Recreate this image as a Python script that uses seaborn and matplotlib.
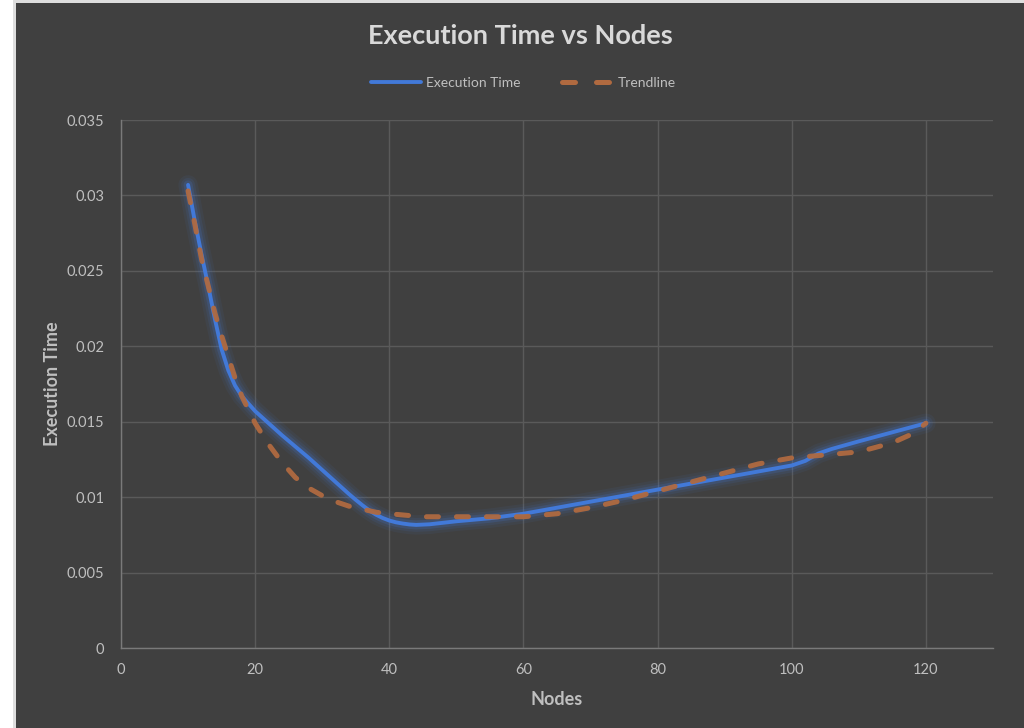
import matplotlib
matplotlib.use("Agg")
import matplotlib.pyplot as plt
import matplotlib.patheffects as pe
from matplotlib.lines import Line2D
from matplotlib.patches import Rectangle
from matplotlib.ticker import FuncFormatter
import pandas as pd
import seaborn as sns

# Measured execution time per node count
exec_nodes = [10, 11, 12, 13, 14, 15, 16, 17, 18, 20, 22, 24, 26, 28, 30, 32, 34,
              35, 36, 37, 38, 39, 40, 41, 42, 43, 44, 46, 48, 50, 55, 60, 65, 70,
              75, 80, 85, 90, 95, 100, 102, 104, 106, 110, 115, 120]
exec_time = [0.0307, 0.0283, 0.0261, 0.0240, 0.0218, 0.0198, 0.0184, 0.0174, 0.0167,
             0.0157, 0.0149, 0.0141, 0.01335, 0.0126, 0.0118, 0.0110, 0.0102,
             0.00982, 0.00946, 0.00913, 0.00884, 0.00862, 0.00845, 0.00833,
             0.00825, 0.00819, 0.00816, 0.0082, 0.0083, 0.0084, 0.0086, 0.0089,
             0.0093, 0.0097, 0.0101, 0.0105, 0.0109, 0.0113, 0.0117, 0.0121,
             0.0124, 0.0129, 0.0132, 0.0137, 0.0143, 0.0149]

# Smoothed trend of the execution time
trend_nodes = [10, 11, 12, 13, 14, 15, 16, 17, 18, 20, 22, 24, 26, 28, 30, 32, 34,
               36, 38, 40, 45, 50, 55, 60, 65, 70, 75, 80, 85, 90, 95, 100, 105,
               110, 115, 118, 120]
trend_time = [0.0303, 0.0281, 0.0258, 0.0240, 0.0222, 0.0207, 0.0193, 0.0179, 0.0167,
              0.0149, 0.0135, 0.0123, 0.0113, 0.0106, 0.0101, 0.0097, 0.0094,
              0.0092, 0.0090, 0.0089, 0.0087, 0.0087, 0.0087, 0.0087, 0.0089,
              0.0093, 0.0098, 0.0104, 0.0110, 0.0116, 0.0122, 0.0126, 0.0128,
              0.0130, 0.0136, 0.0142, 0.0149]

y_ticks = [0, 0.005, 0.01, 0.015, 0.02, 0.025, 0.03, 0.035]
x_ticks = [0, 20, 40, 60, 80, 100, 120]

BG = "#404040"
GRID = "#5a5a5a"
TEXT = "#bfbfbf"
TITLE = "#d9d9d9"
BLUE = "#4279D8"
ORANGE = "#B06A40"

sns.set_theme(style="dark", rc={
    "axes.facecolor": BG,
    "figure.facecolor": "white",
    "grid.color": GRID,
})
plt.rcParams["font.family"] = ["Lato", "DejaVu Sans"]

fig = plt.figure(figsize=(10.24, 7.28), dpi=100)
# panel background with a thin light frame on the left and top
fig.patches.append(Rectangle((13 / 1024, 0), 1, 1, transform=fig.transFigure,
                             facecolor="#dedede", edgecolor="none", zorder=-3))
fig.patches.append(Rectangle((16 / 1024, 0), 1, 1 - 3 / 728, transform=fig.transFigure,
                             facecolor=BG, edgecolor="none", zorder=-2))

ax = fig.add_axes([121 / 1024, 1 - 648 / 728, (993 - 121) / 1024, (648 - 120) / 728])
ax.set_facecolor(BG)

df_exec = pd.DataFrame({"Nodes": exec_nodes, "Execution Time": exec_time})
df_trend = pd.DataFrame({"Nodes": trend_nodes, "Execution Time": trend_time})

sns.lineplot(data=df_exec, x="Nodes", y="Execution Time", ax=ax, color=BLUE,
             linewidth=2.8, errorbar=None, sort=True, zorder=3,
             solid_capstyle="round", solid_joinstyle="round")
blue_line = ax.lines[-1]
blue_line.set_path_effects([
    pe.Stroke(linewidth=14, foreground=BLUE, alpha=0.07),
    pe.Stroke(linewidth=10, foreground=BLUE, alpha=0.10),
    pe.Stroke(linewidth=6.5, foreground=BLUE, alpha=0.18),
    pe.Normal(),
])

sns.lineplot(data=df_trend, x="Nodes", y="Execution Time", ax=ax, color=ORANGE,
             linewidth=3.6, errorbar=None, sort=True, zorder=4,
             linestyle=(0, (2.4, 3.6)), dash_capstyle="round", alpha=0.95)

ax.set_xlim(0, 130)
ax.set_ylim(0, 0.035)
ax.set_xticks(x_ticks)
ax.set_yticks(y_ticks)
ax.yaxis.set_major_formatter(FuncFormatter(lambda v, p: f"{v:g}"))
ax.grid(True, color=GRID, linewidth=1.0)
ax.tick_params(axis="both", colors=TEXT, labelsize=10.5, length=0)
ax.tick_params(axis="x", pad=11)
ax.tick_params(axis="y", pad=12)

for side in ["top", "right"]:
    ax.spines[side].set_visible(False)
for side in ["left", "bottom"]:
    ax.spines[side].set_color("#7a7a7a")
    ax.spines[side].set_linewidth(1.0)

ax.set_xlabel("Nodes", color=TEXT, fontsize=13, fontweight="bold", labelpad=10)
ax.set_ylabel("Execution Time", color=TEXT, fontsize=13, fontweight="bold", labelpad=4)

fig.text(0.508, 1 - 36 / 728, "Execution Time vs Nodes", ha="center", va="center",
         color=TITLE, fontsize=19.5, fontweight="bold")

handles = [
    Line2D([], [], color=BLUE, linewidth=2.8),
    Line2D([], [], color=ORANGE, linewidth=3.6, linestyle=(0, (2.6, 4.2)),
           dash_capstyle="round"),
]
leg = fig.legend(handles, ["Execution Time", "Trendline"], loc="center",
                 bbox_to_anchor=(0.511, 1 - 83 / 728), ncol=2, frameon=False,
                 fontsize=10, handlelength=3.6, columnspacing=3.0,
                 handletextpad=0.4, labelcolor=TEXT)

fig.savefig("out.png", dpi=100, facecolor=fig.get_facecolor())
